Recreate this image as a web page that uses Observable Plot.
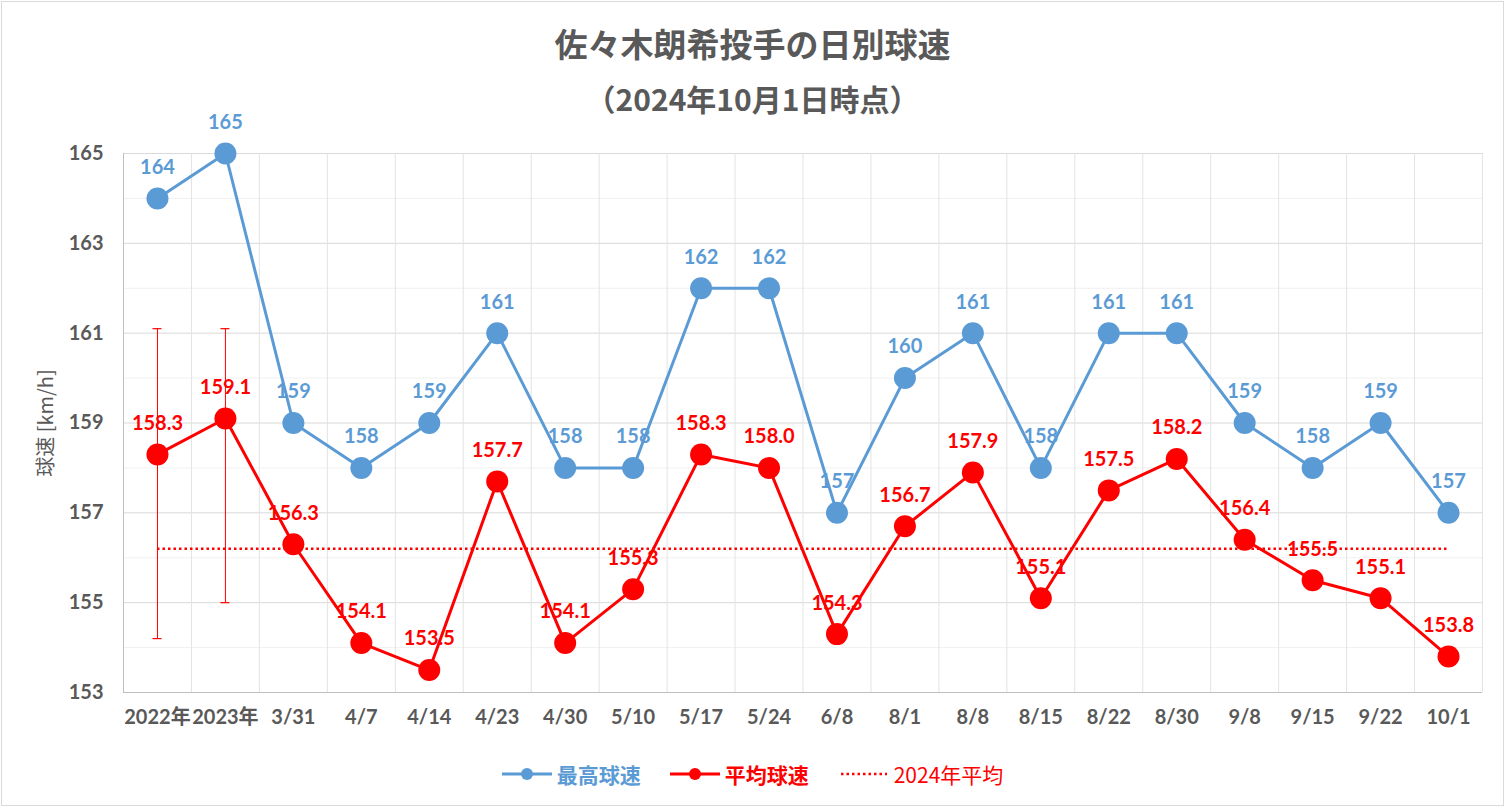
<!DOCTYPE html>
<html><head><meta charset="utf-8">
<script src="https://cdn.jsdelivr.net/npm/d3@7"></script>
<script src="https://cdn.jsdelivr.net/npm/@observablehq/plot@0.6"></script>
<style>
body{margin:0;background:#fff;font-family:Lato,"Noto Sans CJK JP",sans-serif;}
#wrap{position:relative;width:1505px;height:810px;overflow:hidden}
#frame{position:absolute;left:1px;top:1px;width:1503px;height:805px;border:1px solid #d9d9d9;box-sizing:border-box;pointer-events:none}
#title{position:relative;height:125px;color:#595959;font-family:"Noto Sans CJK JP",sans-serif;font-weight:bold;text-align:center}
#t1{position:absolute;left:0;right:0;top:23px;line-height:40px;font-size:33px}
#t2{position:absolute;left:0;right:0;top:78px;line-height:40px;font-size:30px}
#legend{position:absolute;left:0;top:759px;width:1505px;height:30px;display:flex;justify-content:center;align-items:center;font-family:"Noto Sans CJK JP",sans-serif;font-size:21px}
#legend .it{display:flex;align-items:center}
#legend svg{margin-right:5px}
</style></head>
<body>
<div id="wrap">
<div id="title"><div id="t1"></div><div id="t2"></div></div>
<div id="chart"></div>
<div id="legend"></div>
<div id="frame"></div>
</div>
<script>
const titleText = "佐々木朗希投手の日別球速";
const subtitleText = "（2024年10月1日時点）";
const yLabel = "球速 [km/h]";
const categories = ["2022年","2023年","3/31","4/7","4/14","4/23","4/30","5/10","5/17","5/24","6/8","8/1","8/8","8/15","8/22","8/30","9/8","9/15","9/22","10/1"];
const maxSpeed = [164,165,159,158,159,161,158,158,162,162,157,160,161,158,161,161,159,158,159,157];
const avgSpeed = [158.3,159.1,156.3,154.1,153.5,157.7,154.1,155.3,158.3,158.0,154.3,156.7,157.9,155.1,157.5,158.2,156.4,155.5,155.1,153.8];
const errCategories = ["2022年","2023年"];
const errHigh = [161.1,161.1];
const errLow = [154.2,155.0];
const avg2024 = 156.2;
const yTicks = [153,155,157,159,161,163,165];
const seriesNames = ["最高球速","平均球速","2024年平均"];

const BLUE = "#5b9bd5", RED = "#ff0000", GRAY = "#595959";

document.getElementById("t1").textContent = titleText;
document.getElementById("t2").textContent = subtitleText;

const n = categories.length;
const maxData = categories.map((c,i)=>({i, v:maxSpeed[i]}));
const avgData = categories.map((c,i)=>({i, v:avgSpeed[i]}));
const errData = errCategories.map((c,k)=>({i:categories.indexOf(c), hi:errHigh[k], lo:errLow[k]}));
const majorY = d3.range(153,166,2);
const minorY = d3.range(154,165,2);
const bounds = d3.range(n+1).map(i=>i-0.5);

const chart = Plot.plot({
  width:1505, height:615,
  marginLeft:123, marginRight:23, marginTop:28, marginBottom:48,
  style:{fontFamily:'Lato,"Noto Sans CJK JP",sans-serif', background:"transparent", overflow:"visible"},
  x:{type:"linear", domain:[-0.5, n-0.5]},
  y:{domain:[153,165]},
  marks:[
    Plot.ruleY(minorY,{stroke:"#f0f0f0"}),
    Plot.ruleY(majorY,{stroke:"#d9d9d9"}),
    Plot.ruleX(bounds,{stroke:"#e3e3e3"}),
    Plot.ruleY([153],{stroke:"#bfbfbf"}),
    Plot.ruleX([-0.5],{stroke:"#bfbfbf"}),
    Plot.axisX({ticks:d3.range(n), tickFormat:i=>categories[i], tickSize:0, tickPadding:17, fontSize:20, fontWeight:"bold", fill:GRAY, label:null}),
    Plot.axisY({ticks:yTicks, tickSize:0, tickPadding:20, fontSize:20, fontWeight:"bold", fill:GRAY, label:null}),
    Plot.text([yLabel],{frameAnchor:"left", textAnchor:"middle", dx:-77, rotate:-90, fontSize:20, fill:GRAY, fontFamily:'"Noto Sans CJK JP",sans-serif'}),
    Plot.ruleX(errData,{x:"i", y1:"lo", y2:"hi", stroke:RED, strokeWidth:1}),
    Plot.ruleY(errData,{y:"hi", x1:"i", x2:"i", insetLeft:-4.5, insetRight:-4.5, stroke:RED, strokeWidth:1.2}),
    Plot.ruleY(errData,{y:"lo", x1:"i", x2:"i", insetLeft:-4.5, insetRight:-4.5, stroke:RED, strokeWidth:1.2}),
    Plot.ruleY([avg2024],{x1:0, x2:n-1, stroke:RED, strokeWidth:2.5, strokeDasharray:"2.5,3"}),
    Plot.line(maxData,{x:"i", y:"v", stroke:BLUE, strokeWidth:3}),
    Plot.dot(maxData,{x:"i", y:"v", r:11, fill:BLUE}),
    Plot.line(avgData,{x:"i", y:"v", stroke:RED, strokeWidth:3}),
    Plot.dot(avgData,{x:"i", y:"v", r:11, fill:RED}),
    Plot.text(maxData,{x:"i", y:"v", text:d=>String(d.v), dy:-31, fill:BLUE, fontSize:20, fontWeight:"bold"}),
    Plot.text(avgData,{x:"i", y:"v", text:d=>d.v.toFixed(1), dy:-31, fill:RED, fontSize:20, fontWeight:"bold"})
  ]
});
document.getElementById("chart").appendChild(chart);

const leg = document.getElementById("legend");
function item(name, color, kind, bold, gapAfter){
  const d = document.createElement("div"); d.className="it";
  d.style.marginRight = gapAfter+"px";
  let svg;
  if(kind==="dot") svg = `<svg width="50" height="16"><line x1="0" y1="8" x2="50" y2="8" stroke="${color}" stroke-width="3"/><circle cx="25" cy="8" r="6" fill="${color}"/></svg>`;
  else svg = `<svg width="47" height="16" style="margin-right:7px"><line x1="1" y1="8" x2="47" y2="8" stroke="${color}" stroke-width="2.5" stroke-dasharray="2.5,3"/></svg>`;
  d.innerHTML = svg + `<span style="color:${color};font-weight:${bold?"bold":"normal"}">${name}</span>`;
  leg.appendChild(d);
}
item(seriesNames[0], BLUE, "dot", true, 29);
item(seriesNames[1], RED, "dot", true, 31);
item(seriesNames[2], RED, "dash", false, 0);
</script>
</body></html>
